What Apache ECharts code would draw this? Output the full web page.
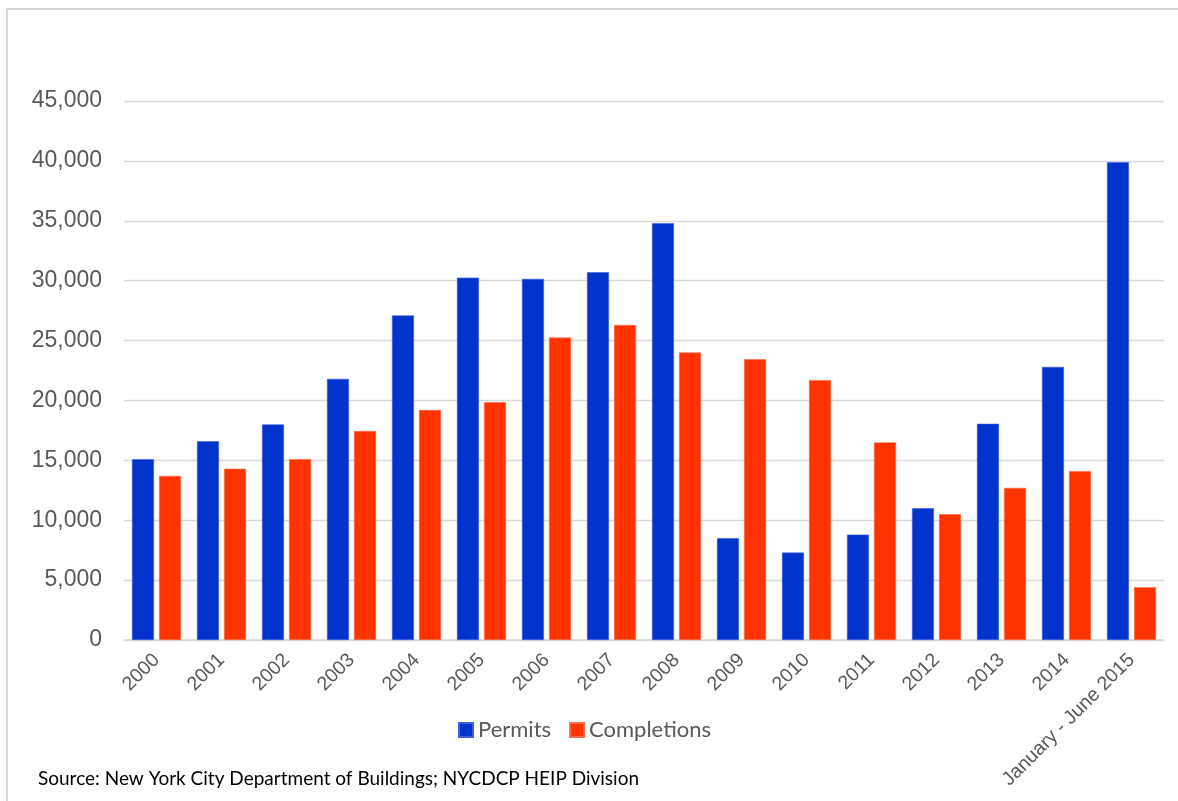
<!DOCTYPE html>
<html>
<head>
<meta charset="utf-8">
<script src="https://cdn.jsdelivr.net/npm/echarts@6/dist/echarts.min.js"></script>
<style>
  html, body { margin: 0; padding: 0; background: #fff; }
  #chart { width: 1178px; height: 801px; }
</style>
</head>
<body>
<div id="chart"></div>
<script>
// Housing units: permits issued vs. completions, 2000 – mid-2015
const categories = ['2000', '2001', '2002', '2003', '2004', '2005', '2006', '2007',
  '2008', '2009', '2010', '2011', '2012', '2013', '2014', 'January - June 2015'];
const permits = [15100, 16600, 18000, 21800, 27100, 30250, 30150, 30700,
  34800, 8500, 7300, 8800, 11000, 18050, 22800, 39900];
const completions = [13700, 14300, 15100, 17450, 19200, 19850, 25250, 26300,
  24000, 23450, 21700, 16500, 10500, 12700, 14100, 4400];
const sourceNote = 'Source: New York City Department of Buildings; NYCDCP HEIP Division';

const chart = echarts.init(document.getElementById('chart'), null, { renderer: 'canvas' });

const fmt = v => v.toLocaleString('en-US');

chart.setOption({
  animation: false,
  backgroundColor: '#ffffff',
  title: {
    text: sourceNote,
    left: 33,
    top: 764,
    textStyle: { fontFamily: 'Lato', fontSize: 19, fontWeight: 'normal', color: '#000000' }
  },
  graphic: [{
    type: 'rect',
    shape: { x: 7, y: 9, width: 1200, height: 820 },
    style: { fill: 'none', stroke: '#d9d9d9', lineWidth: 2 },
    silent: true
  }],
  legend: {
    left: 453,
    top: 714,
    itemWidth: 14,
    itemHeight: 14,
    itemGap: 18,
    icon: 'rect',
    textStyle: { fontFamily: 'Lato', fontSize: 22, color: '#595959' },
    data: ['Permits', 'Completions']
  },
  grid: { left: 124, right: 14, top: 101, bottom: 161, containLabel: false },
  xAxis: {
    type: 'category',
    data: categories,
    axisLine: { show: true, lineStyle: { color: '#d9d9d9', width: 1.5 } },
    axisTick: { show: false },
    axisLabel: {
      rotate: 45,
      interval: 0,
      margin: 17,
      fontFamily: 'Liberation Sans',
      fontSize: 19.5,
      color: '#595959'
    }
  },
  yAxis: {
    type: 'value',
    min: 0,
    max: 45000,
    interval: 5000,
    axisLine: { show: false },
    axisTick: { show: false },
    splitLine: { lineStyle: { color: '#d9d9d9', width: 1.3 } },
    axisLabel: {
      margin: 22,
      fontFamily: 'Liberation Sans',
      fontSize: 23,
      color: '#595959',
      formatter: fmt
    }
  },
  series: [
    {
      name: 'Permits',
      type: 'bar',
      data: permits,
      barWidth: 22,
      barGap: '23%',
      itemStyle: { color: '#0033cc', borderColor: '#3d62dd', borderWidth: 0.6 }
    },
    {
      name: 'Completions',
      type: 'bar',
      data: completions,
      barWidth: 22,
      itemStyle: { color: '#ff3300', borderColor: '#ff6a4a', borderWidth: 0.6 }
    }
  ]
});
</script>
</body>
</html>
